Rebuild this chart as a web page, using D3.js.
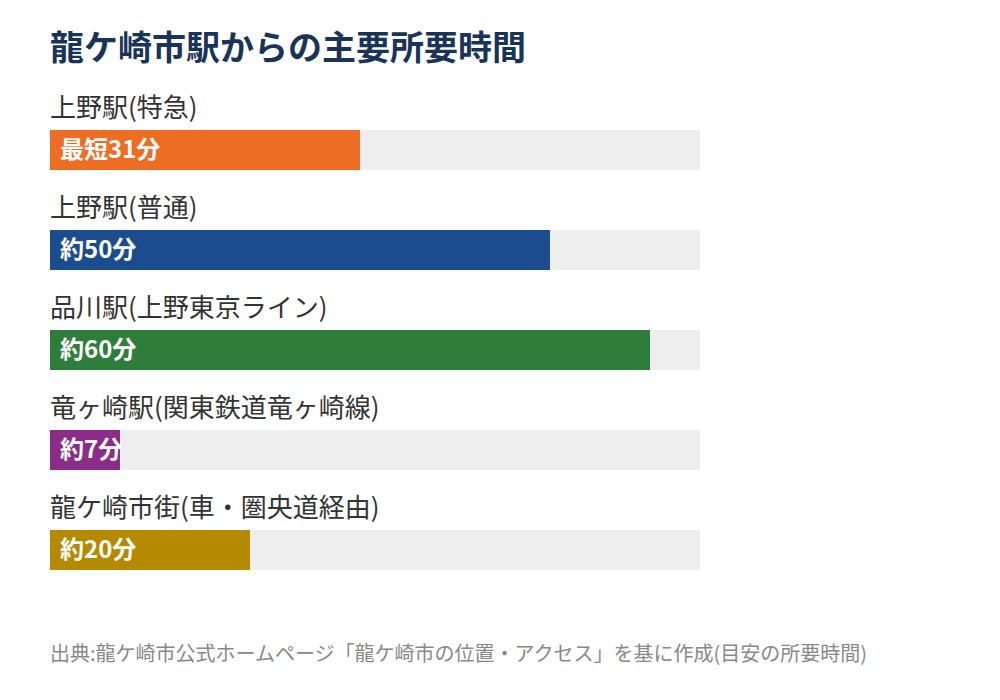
<!DOCTYPE html>
<html><head><meta charset="utf-8">
<script src="https://cdn.jsdelivr.net/npm/d3@7"></script>
<style>
body{margin:0;background:#fff;}
svg{display:block;font-family:"Noto Sans CJK JP","Noto Sans",sans-serif;}
</style></head>
<body><svg id="c" width="1000" height="700"></svg>
<script>
const titleText = "龍ケ崎市駅からの主要所要時間";
const categories = ["上野駅(特急)","上野駅(普通)","品川駅(上野東京ライン)","竜ヶ崎駅(関東鉄道竜ヶ崎線)","龍ケ崎市街(車・圏央道経由)"];
const minutes = [31,50,60,7,20];
const valueLabels = ["最短31分","約50分","約60分","約7分","約20分"];
const colors = ["#ED6D25","#1B4C8E","#2E7D3B","#8B2C89","#B58900"];
const maxMinutes = 65;
const sourceText = "出典:龍ケ崎市公式ホームページ「龍ケ崎市の位置・アクセス」を基に作成(目安の所要時間)";

const svg = d3.select("#c");
const x = d3.scaleLinear().domain([0,maxMinutes]).range([50,700]);
const y = d3.scaleBand().domain(categories).range([90,590]).paddingInner(0).paddingOuter(0);

svg.append("text").attr("x",50).attr("y",60).attr("font-size",34).attr("font-weight",700)
  .attr("fill","#1A3358").text(titleText);

const g = svg.selectAll("g.row").data(categories).join("g").attr("class","row")
  .attr("transform",d=>`translate(0,${y(d)})`);

g.append("text").attr("x",50).attr("y",27).attr("font-size",26).attr("fill","#333")
  .text(d=>d);
g.append("rect").attr("x",x(0)).attr("y",40).attr("width",x(maxMinutes)-x(0)).attr("height",40).attr("fill","#EEEEEE");
g.append("rect").attr("x",x(0)).attr("y",40).attr("width",(d,i)=>x(minutes[i])-x(0)).attr("height",40)
  .attr("fill",(d,i)=>colors[i]);
g.append("text").attr("x",60).attr("y",60).attr("dy","0.35em").attr("font-size",24).attr("font-weight",700)
  .attr("fill","#fff").text((d,i)=>valueLabels[i]);

svg.append("text").attr("x",50).attr("y",661).attr("font-size",20).attr("fill","#888").text(sourceText);
</script></body></html>
